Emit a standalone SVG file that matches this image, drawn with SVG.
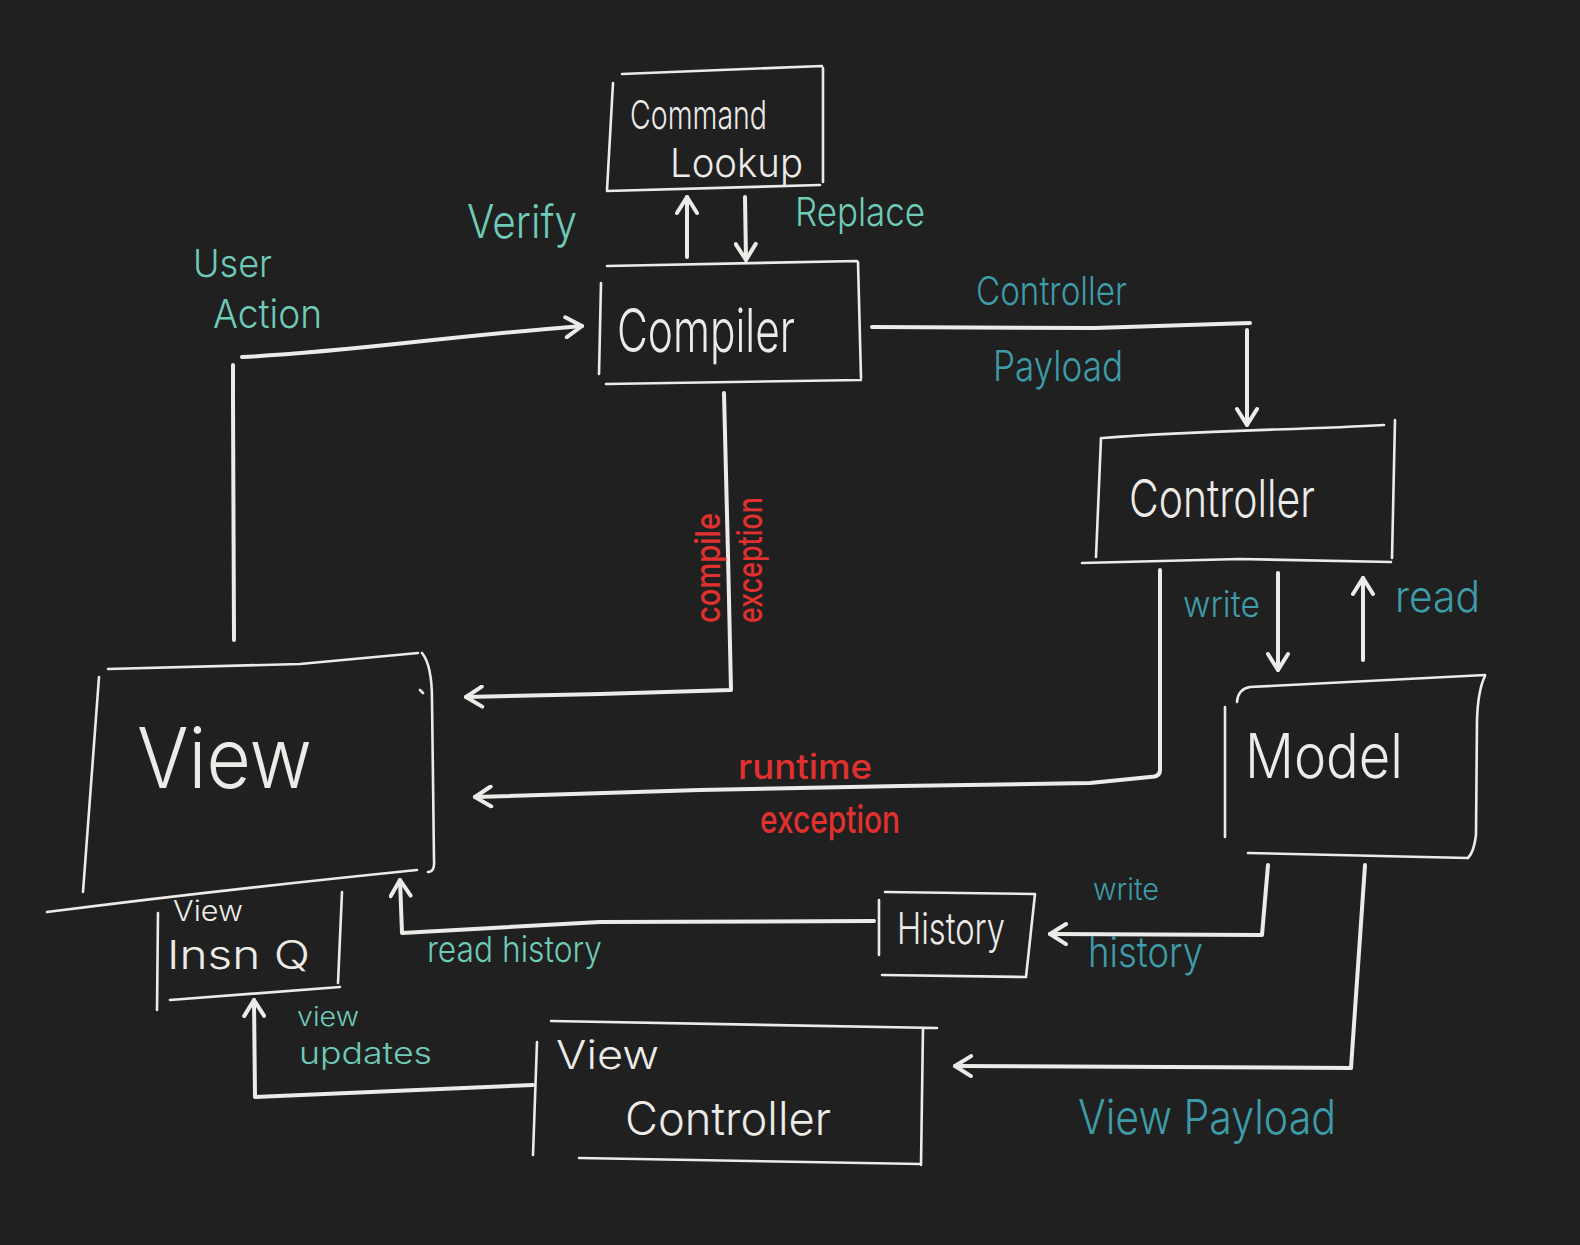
<svg xmlns="http://www.w3.org/2000/svg" width="1580" height="1245" viewBox="0 0 1580 1245">
<style>
.box{fill:none;stroke:#ecebe8;stroke-width:2.6;stroke-linecap:round;stroke-linejoin:round}
.con{fill:none;stroke:#ecebe8;stroke-width:4;stroke-linecap:round;stroke-linejoin:round}
text{font-family:"Inter","Liberation Sans",sans-serif;font-weight:300}
.nt{fill:#ecebe8}
.lt{fill:#6ecbb8}
.dt{fill:#3d9ca8}
.rd{fill:#e0312f;font-weight:500}
</style>
<defs>
<marker id="ah" viewBox="0 0 24 24" refX="21" refY="12" markerWidth="24" markerHeight="24" orient="auto" markerUnits="userSpaceOnUse">
<path d="M5,2 L21,12 L5,22" fill="none" stroke="#ecebe8" stroke-width="4" stroke-linecap="round" stroke-linejoin="round"/>
</marker>
</defs>
<rect width="1580" height="1245" fill="#212020"/>

<g id="connectors">
<path class="con" d="M687,257 L687,197" marker-end="url(#ah)"/>
<path class="con" d="M745,197 L746,260" marker-end="url(#ah)"/>
<path class="con" d="M234,640 L233,400 L233,365"/>
<path class="con" d="M242,357 C350,352 430,338 582,326" marker-end="url(#ah)"/>
<path class="con" d="M872,327 L1095,328 L1250,323 M1247,330 L1247,425" marker-end="url(#ah)"/>
<path class="con" d="M724,393 L728,555 L731,690 L600,694 L466,697" marker-end="url(#ah)"/>
<path class="con" d="M1160,570 L1160,770 Q1160,777 1150,777 L1090,783 L900,786 L700,790 L475,797" marker-end="url(#ah)"/>
<path class="con" d="M1278,573 L1278,670" marker-end="url(#ah)"/>
<path class="con" d="M1363,660 L1363,578" marker-end="url(#ah)"/>
<path class="con" d="M1268,865 L1262,935 L1050,934" marker-end="url(#ah)"/>
<path class="con" d="M874,921 L600,922 L402,933 L400,880" marker-end="url(#ah)"/>
<path class="con" d="M1365,865 L1351,1068 L955,1066" marker-end="url(#ah)"/>
<path class="con" d="M533,1085 L255,1097 L254,1000" marker-end="url(#ah)"/>
</g>

<g id="command-lookup">
<path class="box" d="M622,74 L822,66 M823,68 L823,182 M607,191 L820,185 M613,83 L607,190"/>
<text class="nt" x="630" y="129" font-size="40" textLength="137" lengthAdjust="spacingAndGlyphs">Command</text>
<text class="nt" x="670" y="177" font-size="40" textLength="133" lengthAdjust="spacingAndGlyphs">Lookup</text>
</g>

<g id="compiler">
<path class="box" d="M607,266 L857,261 M858,262 L861,378 M606,384 L861,380 M601,283 L599,374"/>
<text class="nt" x="617" y="352" font-size="60" textLength="178" lengthAdjust="spacingAndGlyphs">Compiler</text>
</g>

<g id="controller">
<path class="box" d="M1103,438 C1200,430 1300,430 1384,425 M1395,420 L1392,558 M1082,563 L1240,559 L1391,562 M1101,438 L1096,557"/>
<text class="nt" x="1129" y="517" font-size="52" textLength="186" lengthAdjust="spacingAndGlyphs">Controller</text>
</g>

<g id="model">
<path class="box" d="M1237,702 Q1238,689 1250,687 L1485,675 M1485,676 Q1478,690 1477,720 L1476,835 Q1474,852 1468,858 M1225,707 L1225,837 M1248,853 L1468,858"/>
<text class="nt" x="1245" y="778" font-size="62" textLength="158" lengthAdjust="spacingAndGlyphs">Model</text>
</g>

<g id="view">
<path class="box" d="M108,669 L300,664 L418,653 M422,653 Q432,665 432,700 L434,860 Q435,872 428,872 M99,677 L83,892 M47,912 Q220,890 417,870 M420,690 L423,693"/>
<text class="nt" x="137" y="788" font-size="84" textLength="175" lengthAdjust="spacingAndGlyphs">View</text>
</g>

<g id="view-insn-q">
<path class="box" d="M158,913 L157,1010 M342,892 L338,983 M170,1000 L340,987"/>
<text class="nt" x="173" y="921" font-size="28" textLength="70" lengthAdjust="spacingAndGlyphs">View</text>
<text class="nt" x="167" y="969" font-size="40" textLength="143" lengthAdjust="spacingAndGlyphs">Insn Q</text>
</g>

<g id="history">
<path class="box" d="M885,892 L1035,894 M1035,894 L1026,977 M882,975 L1026,977 M879,900 L879,955"/>
<text class="nt" x="897" y="944" font-size="44" textLength="108" lengthAdjust="spacingAndGlyphs">History</text>
</g>

<g id="view-controller">
<path class="box" d="M551,1021 L937,1028 M923,1028 L921,1165 M579,1158 L921,1164 M537,1042 L533,1155"/>
<text class="nt" x="556" y="1069" font-size="40" textLength="103" lengthAdjust="spacingAndGlyphs">View</text>
<text class="nt" x="625" y="1135" font-size="46" textLength="206" lengthAdjust="spacingAndGlyphs">Controller</text>
</g>

<g id="labels">
<text class="lt" x="467" y="238" font-size="46" textLength="110" lengthAdjust="spacingAndGlyphs">Verify</text>
<text class="lt" x="795" y="226" font-size="40" textLength="130" lengthAdjust="spacingAndGlyphs">Replace</text>
<text class="lt" x="193" y="277" font-size="38" textLength="79" lengthAdjust="spacingAndGlyphs">User</text>
<text class="lt" x="213" y="328" font-size="40" textLength="109" lengthAdjust="spacingAndGlyphs">Action</text>
<text class="dt" x="976" y="305" font-size="40" textLength="151" lengthAdjust="spacingAndGlyphs">Controller</text>
<text class="dt" x="993" y="381" font-size="42" textLength="130" lengthAdjust="spacingAndGlyphs">Payload</text>
<text class="dt" x="1183" y="617" font-size="36" textLength="77" lengthAdjust="spacingAndGlyphs">write</text>
<text class="dt" x="1395" y="612" font-size="44" textLength="85" lengthAdjust="spacingAndGlyphs">read</text>
<text class="rd" transform="translate(720,568) rotate(-90)" text-anchor="middle" font-size="34" textLength="110" lengthAdjust="spacingAndGlyphs">compile</text>
<text class="rd" transform="translate(762,560) rotate(-90)" text-anchor="middle" font-size="34" textLength="126" lengthAdjust="spacingAndGlyphs">exception</text>
<text class="rd" x="738" y="779" font-size="34" textLength="134" lengthAdjust="spacingAndGlyphs">runtime</text>
<text class="rd" x="760" y="833" font-size="38" textLength="140" lengthAdjust="spacingAndGlyphs">exception</text>
<text class="dt" x="1093" y="900" font-size="30" textLength="66" lengthAdjust="spacingAndGlyphs">write</text>
<text class="dt" x="1088" y="967" font-size="42" textLength="115" lengthAdjust="spacingAndGlyphs">history</text>
<text class="lt" x="427" y="962" font-size="36" textLength="175" lengthAdjust="spacingAndGlyphs">read history</text>
<text class="lt" x="297" y="1026" font-size="26" textLength="62" lengthAdjust="spacingAndGlyphs">view</text>
<text class="lt" x="299" y="1064" font-size="30" textLength="133" lengthAdjust="spacingAndGlyphs">updates</text>
<text class="dt" x="1078" y="1134" font-size="48" textLength="258" lengthAdjust="spacingAndGlyphs">View Payload</text>
</g>
</svg>
